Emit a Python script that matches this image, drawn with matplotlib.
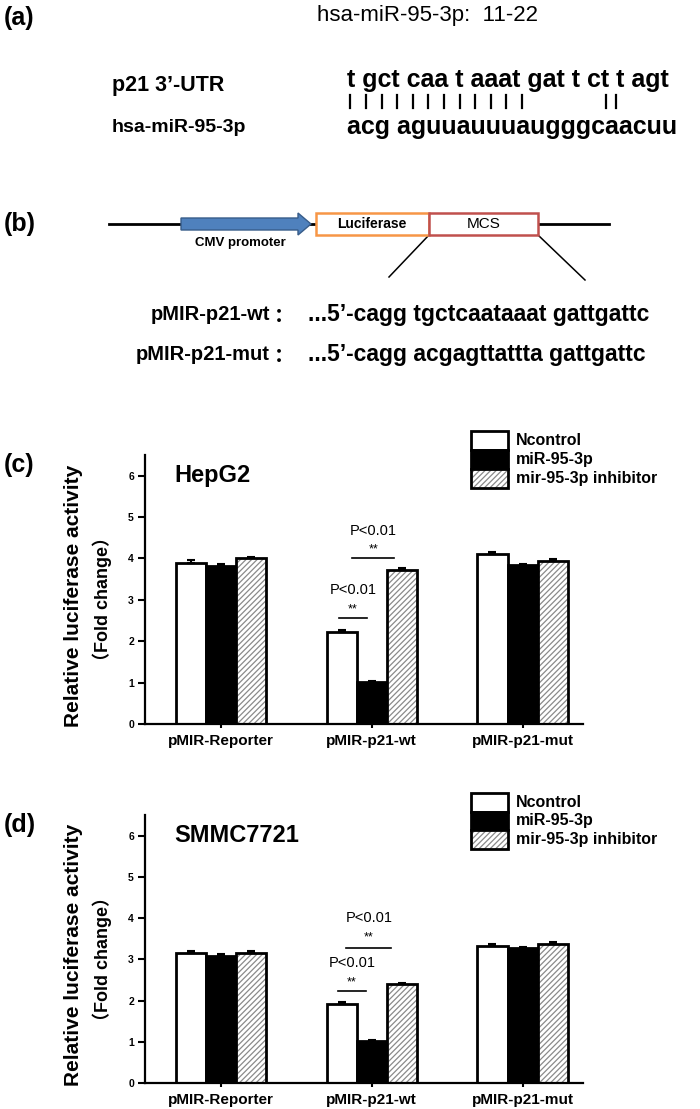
import matplotlib
matplotlib.use("Agg")
import matplotlib.pyplot as plt
from matplotlib.patches import Rectangle, FancyArrow
import numpy as np

plt.rcParams['font.family'] = ['Liberation Sans', 'DejaVu Sans']
plt.rcParams['hatch.linewidth'] = 0.9
CJK = ['Liberation Sans', 'Noto Sans CJK SC', 'DejaVu Sans']

# ---------------- data ----------------
groups = ['pMIR-Reporter', 'pMIR-p21-wt', 'pMIR-p21-mut']
series = ['Ncontrol', 'miR-95-3p', 'mir-95-3p inhibitor']

hepg2_ncontrol = [3.90, 2.22, 4.10]
hepg2_mir = [3.82, 1.02, 3.84]
hepg2_inhib = [4.00, 3.73, 3.95]
hepg2_err_ncontrol = [0.07, 0.04, 0.05]
hepg2_err_mir = [0.05, 0.02, 0.03]
hepg2_err_inhib = [0.04, 0.03, 0.04]

smmc_ncontrol = [3.15, 1.92, 3.33]
smmc_mir = [3.07, 1.02, 3.27]
smmc_inhib = [3.15, 2.40, 3.36]
smmc_err_ncontrol = [0.06, 0.04, 0.05]
smmc_err_mir = [0.05, 0.02, 0.03]
smmc_err_inhib = [0.04, 0.02, 0.05]

yticks = [0, 1, 2, 3, 4, 5, 6]

utr_seq = 't gct caa t aaat gat t ct t agt'
mir_seq = 'acg aguuauuuaugggcaacuu'
wt_seq = '...5\u2019-cagg tgctcaataaat gattgattc'
mut_seq = '...5\u2019-cagg acgagttattta gattgattc'

W, H = 700, 1109
fig = plt.figure(figsize=(W / 100, H / 100), dpi=100)


def fx(x):
    return x / W


def fy(y):
    return 1 - y / H


# overlay axes in pixel coords for the schematic parts
ov = fig.add_axes([0, 0, 1, 1], zorder=5)
ov.set_xlim(0, W)
ov.set_ylim(H, 0)
ov.axis('off')
ov.patch.set_visible(False)

# ---------------- panel (a) ----------------
ov.text(4, 18, '(a)', fontsize=18, fontweight='bold', va='center', ha='left')
ov.text(317, 15, 'hsa-miR-95-3p:  11-22', fontsize=16, va='center', ha='left')
ov.text(112, 85, "p21 3\u2019-UTR", fontsize=15.5, fontweight='bold', va='center', ha='left')
ov.text(112, 128, 'hsa-miR-95-3p', fontsize=14, fontweight='bold', va='center', ha='left')
ov.text(347, 80, utr_seq, fontsize=18, fontweight='bold', va='center', ha='left')
ov.text(347, 127, mir_seq, fontsize=18, fontweight='bold', va='center', ha='left')
seq_w = 330
pipe_fr = list(np.linspace(0.01, 0.53, 12)) + [0.785, 0.815]
for f in pipe_fr:
    xp = 347 + f * seq_w
    ov.plot([xp, xp], [95, 108], color='black', lw=1.6)

# ---------------- panel (b) ----------------
ov.text(4, 224, '(b)', fontsize=18, fontweight='bold', va='center', ha='left')
ov.plot([109, 609], [224, 224], color='black', lw=2, zorder=1)
ov.add_patch(FancyArrow(181, 224, 130, 0, width=12, head_width=22, head_length=13,
                        length_includes_head=True, facecolor='#4f81bd', edgecolor='#385d8a',
                        lw=1, zorder=3))
ov.add_patch(Rectangle((316, 213), 113, 22, facecolor='white', edgecolor='#f79646', lw=1.8, zorder=3))
ov.add_patch(Rectangle((429, 213), 109, 22, facecolor='white', edgecolor='#c0504d', lw=1.8, zorder=3.2))
ov.text(372, 224, 'Luciferase', fontsize=10, fontweight='bold', va='center', ha='center', zorder=4)
ov.text(484, 224, 'MCS', fontsize=11, va='center', ha='center', zorder=4)
ov.text(240, 243, 'CMV promoter', fontsize=9.5, fontweight='bold', va='center', ha='center')
ov.plot([429, 389], [235, 277], color='black', lw=1.1)
ov.plot([538, 585], [235, 280], color='black', lw=1.1)

ov.text(270, 315, 'pMIR-p21-wt', fontsize=14.5, fontweight='bold', va='center', ha='right')
ov.text(270, 355, 'pMIR-p21-mut', fontsize=14.5, fontweight='bold', va='center', ha='right')
ov.text(274, 315, '\uff1a', fontsize=14.5, fontweight='bold', family=CJK[1:], va='center', ha='left')
ov.text(274, 355, '\uff1a', fontsize=14.5, fontweight='bold', family=CJK[1:], va='center', ha='left')
ov.text(308, 315, wt_seq, fontsize=16.5, fontweight='bold', va='center', ha='left')
ov.text(308, 355, mut_seq, fontsize=16.5, fontweight='bold', va='center', ha='left')


# ---------------- bar panels ----------------
def bar_panel(top, bottom, label, title, title_y, vals, errs, sig, legend_top, box_h):
    left, right = 145, 583
    ax = fig.add_axes([fx(left), fy(bottom), fx(right - left), (bottom - top) / H])
    ax.patch.set_visible(False)
    x = np.arange(len(groups))
    w = 0.2
    for i, (v, e) in enumerate(zip(vals, errs)):
        pos = x + (i - 1) * w
        if i == 0:
            ax.bar(pos, v, width=w, facecolor='white', edgecolor='black', lw=2, zorder=2)
        elif i == 1:
            ax.bar(pos, v, width=w, facecolor='black', edgecolor='black', lw=2, zorder=2)
        else:
            ax.bar(pos, v, width=w, facecolor='white', edgecolor='#8a8a8a', lw=0,
                   hatch='//////', zorder=2)
            ax.bar(pos, v, width=w, facecolor='none', edgecolor='black', lw=2, zorder=2.5)
        ax.errorbar(pos, v, yerr=[np.zeros(len(e)), e], fmt='none', ecolor='black',
                    elinewidth=1.5, capsize=3, capthick=1.5, zorder=3)
    ax.set_xlim(-0.503, 2.40)
    ax.set_ylim(0, 6.5)
    ax.set_yticks(yticks)
    ax.set_yticklabels([str(t) for t in yticks], fontsize=7.5, fontweight='bold')
    ax.set_xticks(x)
    ax.set_xticklabels(groups, fontsize=11, fontweight='bold')
    ax.tick_params(axis='y', direction='out', length=5, width=1.5, pad=3)
    ax.tick_params(axis='x', direction='out', length=3, width=1.5, pad=4)
    for s in ['top', 'right']:
        ax.spines[s].set_visible(False)
    for s in ['left', 'bottom']:
        ax.spines[s].set_linewidth(1.6)
    ax.text(-0.31, title_y, title, fontsize=17, fontweight='bold', va='center', ha='left')
    # significance
    for (x0, x1, yl, ys, yp) in sig:
        ax.plot([x0, x1], [yl, yl], color='black', lw=1.2)
        ax.text((x0 + x1) / 2, ys, '**', fontsize=9, ha='center', va='center')
        ax.text((x0 + x1) / 2, yp, 'P<0.01', fontsize=10.5, ha='center', va='center')
    # legend
    lx = 471
    for i in range(3):
        y0 = legend_top + i * box_h
        if i == 0:
            ov.add_patch(Rectangle((lx, y0), 37, box_h, facecolor='white', edgecolor='black', lw=2))
        elif i == 1:
            ov.add_patch(Rectangle((lx, y0), 37, box_h, facecolor='black', edgecolor='black', lw=2))
        else:
            ov.add_patch(Rectangle((lx, y0), 37, box_h, facecolor='white', edgecolor='#8a8a8a',
                                   lw=0, hatch='//////'))
            ov.add_patch(Rectangle((lx, y0), 37, box_h, facecolor='none', edgecolor='black', lw=2))
        ov.text(lx + 45, y0 + box_h / 2, series[i], fontsize=11.5, fontweight='bold',
                va='center', ha='left')
    # panel label and y label
    ov.text(4, top + 10, label, fontsize=18, fontweight='bold', va='center', ha='left')
    mid = (top + bottom) / 2 + 6
    ov.text(74, mid, 'Relative luciferase activity', fontsize=15, fontweight='bold',
            rotation=90, va='center', ha='center')
    ov.text(102, mid + 4, '\uff08Fold change\uff09', fontsize=13, fontweight='bold', family=CJK,
            rotation=90, va='center', ha='center')
    return ax


bar_panel(455, 724, '(c)', 'HepG2', 6.0,
          [hepg2_ncontrol, hepg2_mir, hepg2_inhib],
          [hepg2_err_ncontrol, hepg2_err_mir, hepg2_err_inhib],
          [(0.78, 0.97, 2.55, 2.77, 3.25), (0.87, 1.15, 4.0, 4.22, 4.66)],
          431, 19)

bar_panel(815, 1083, '(d)', 'SMMC7721', 6.0,
          [smmc_ncontrol, smmc_mir, smmc_inhib],
          [smmc_err_ncontrol, smmc_err_mir, smmc_err_inhib],
          [(0.775, 0.96, 2.23, 2.45, 2.9), (0.83, 1.13, 3.28, 3.54, 4.0)],
          793, 18.5)

fig.savefig('out.png', dpi=100)
